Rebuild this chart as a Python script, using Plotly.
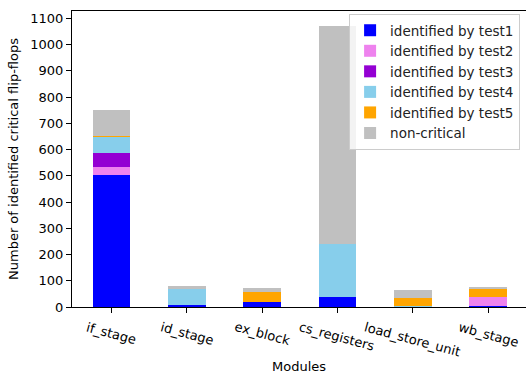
import plotly.graph_objects as go

modules = ["if_stage", "id_stage", "ex_block", "cs_registers", "load_store_unit", "wb_stage"]
test1 = [504, 9, 20, 39, 2, 5]
test2 = [31, 0, 0, 0, 0, 33]
test3 = [53, 0, 0, 0, 0, 0]
test4 = [60, 61, 0, 203, 2, 0]
test5 = [3, 0, 38, 0, 32, 31]
non_critical = [98, 11, 16, 828, 29, 4]

series = [
    ("identified by test1", test1, "#0000ff"),
    ("identified by test2", test2, "#ee82ee"),
    ("identified by test3", test3, "#9400d3"),
    ("identified by test4", test4, "#87ceeb"),
    ("identified by test5", test5, "#ffa500"),
    ("non-critical", non_critical, "#c0c0c0"),
]

x_idx = list(range(len(modules)))
fig = go.Figure()
for name, vals, color in series:
    fig.add_trace(go.Bar(
        x=x_idx, y=vals, name=name, width=0.5,
        marker=dict(color=color, line=dict(width=0)),
    ))

font = "DejaVu Sans, sans-serif"

# rotated tick labels, centred under ticks (like matplotlib rotation with ha=center)
for i, lab in enumerate(modules):
    fig.add_annotation(
        x=i, y=-0.037, xref="x", yref="paper", text=lab, showarrow=False,
        textangle=15, xanchor="center", yanchor="top",
        font=dict(family=font, size=13, color="black"), borderpad=0,
    )
fig.add_annotation(
    x=0.5, y=-0.2027, xref="paper", yref="paper", text="Modules", showarrow=False,
    xanchor="center", yanchor="middle", font=dict(family=font, size=13, color="black"),
)

fig.update_layout(
    barmode="stack",
    width=526, height=374,
    margin=dict(l=72, r=0, t=11, b=67),
    plot_bgcolor="white", paper_bgcolor="white",
    font=dict(family=font, size=13, color="black"),
    bargap=0,
    legend=dict(
        x=0.987, y=0.99, xanchor="right", yanchor="top",
        bgcolor="rgba(255,255,255,0.8)", bordercolor="#cccccc", borderwidth=1,
        font=dict(family=font, size=13.5, color="#222"),
        tracegroupgap=0, itemwidth=30,
        traceorder="normal",
    ),
    xaxis=dict(
        range=[-0.525, 5.504],
        tickmode="array", tickvals=x_idx, showticklabels=False,
        showline=True, linecolor="black", linewidth=1, mirror=True,
        ticks="outside", ticklen=5, tickcolor="black",
        showgrid=False, zeroline=False,
    ),
    yaxis=dict(
        range=[0, 1128],
        tickmode="array", tickvals=list(range(0, 1101, 100)),
        showline=True, linecolor="black", linewidth=1,
        ticks="outside", ticklen=5, tickcolor="black",
        showgrid=False, zeroline=False,
        title=dict(text="Number of identified critical flip-flops", font=dict(size=13), standoff=8),
        tickfont=dict(size=13),
    ),
)

fig.write_html("out.html")
